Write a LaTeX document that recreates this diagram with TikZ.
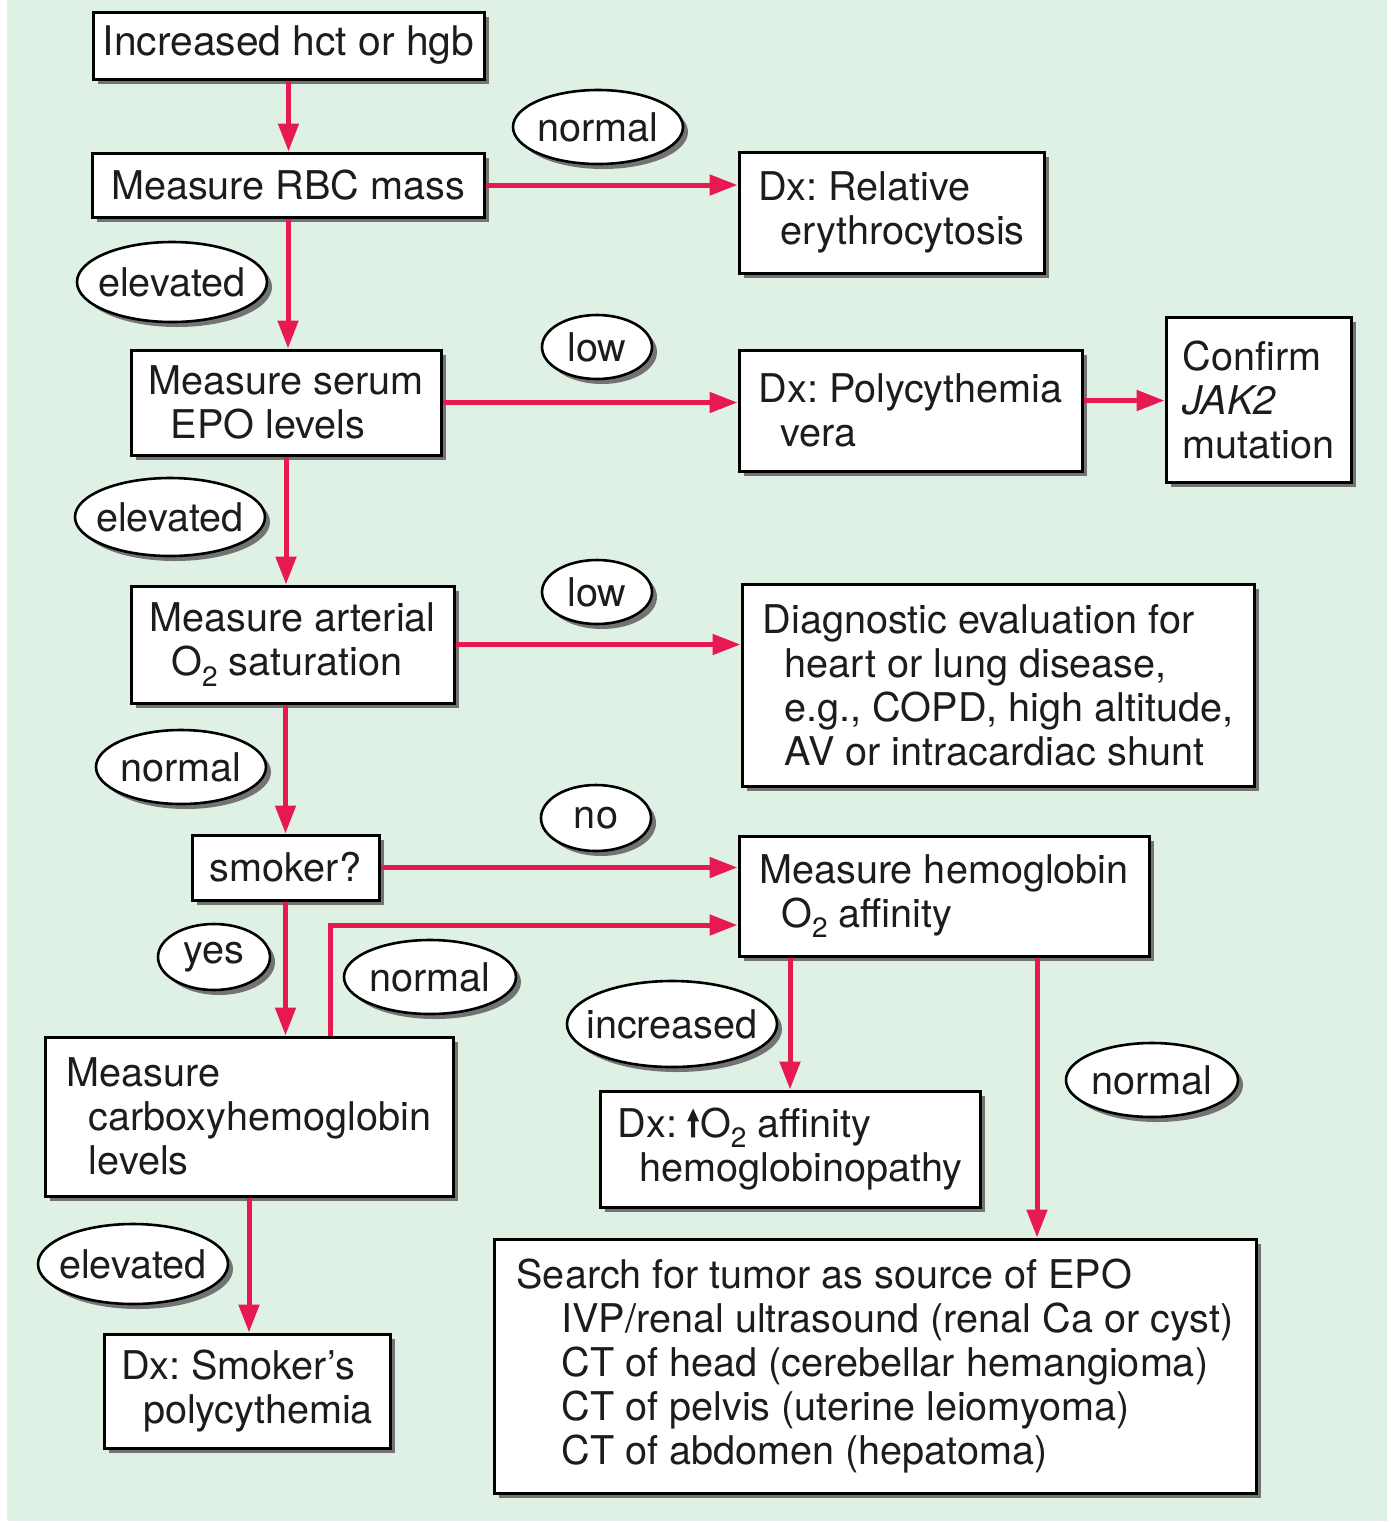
\documentclass[tikz,border=0pt]{standalone}
\usepackage{fontspec}
\setmainfont{TeX Gyre Heros}
\usetikzlibrary{arrows.meta,shapes.geometric,shadows}
\frenchspacing

\definecolor{bggreen}{RGB}{223,240,229}
\definecolor{arrred}{RGB}{230,25,80}
\definecolor{inkgray}{RGB}{28,28,28}

\newcommand{\Otwo}{O\raisebox{-0.5ex}{\fontsize{14}{14}\selectfont 2}}
\newcommand{\ind}{\hspace*{11pt}}
\newcommand{\lbltxt}[1]{\makebox[0pt]{#1}}
\newcommand{\uparr}{\tikz[baseline=0pt]\fill[inkgray] (-1pt,0pt) -- (1pt,0pt) -- (1pt,8pt) -- (3pt,8pt) -- (0pt,14.5pt) -- (-3pt,8pt) -- (-1pt,8pt) -- cycle;}

\begin{document}
\begin{tikzpicture}[x=0.5pt,y=-0.5pt,
    font=\fontsize{19.8}{22}\selectfont,
    box/.style={draw=black, line width=1.5pt, fill=white, text=inkgray, align=left, inner sep=0pt,
        drop shadow={shadow xshift=2.5pt, shadow yshift=-2.5pt, fill=black!55, opacity=1}},
    lbl/.style={ellipse, draw=black, line width=1.3pt, fill=white, text=inkgray, inner sep=0pt,
        drop shadow={shadow xshift=2.5pt, shadow yshift=-2.5pt, fill=black!55, opacity=1}},
    arr/.style={draw=arrred, line width=2.5pt, -{Triangle[length=14pt,width=10pt]}}]

    % Background
    \useasboundingbox (0,0) rectangle (1391,1523);
    \fill[bggreen] (7,0) rectangle (1387,1521);

    % Left column
    \node[box, minimum width=195.5pt, minimum height=33.5pt, font=\fontsize{20.4}{24}\selectfont] (inc) at (288.5,45.5) {Increased hct or hgb};
    \node[box, minimum width=196pt, minimum height=32pt] (rbc) at (288,185) {Measure RBC mass};
    \node[box, minimum width=155pt, minimum height=52.5pt] (epo) at (286,402.5) {Measure serum\\\ind EPO levels};
    \node[box, minimum width=161.5pt, minimum height=58.5pt] (sat) at (292.5,644.5) {Measure arterial\\\ind\Otwo{} saturation};
    \node[box, minimum width=93.5pt, minimum height=32.5pt] (smk) at (285.5,867.5) {smoker?};
    \node[box, minimum width=204pt, minimum height=79.5pt] (carb) at (249,1116.5) {Measure\\\ind carboxyhemoglobin\\\ind levels};
    \node[box, minimum width=143pt, minimum height=57pt] (smkp) at (247,1391) {Dx: Smoker’s\\\ind polycythemia};

    % Right side
    \node[box, minimum width=152.5pt, minimum height=60.5pt] (rel) at (891.5,212.5) {Dx: Relative\\\ind erythrocytosis};
    \node[box, minimum width=171.5pt, minimum height=60.5pt] (pv) at (910.5,410.5) {Dx: Polycythemia\\\ind vera};
    \node[box, minimum width=92.5pt, minimum height=82.5pt] (jak) at (1258.5,399.5) {Confirm\\\textit{JAK2}\\mutation};
    \node[box, minimum width=256pt, minimum height=101pt] (diag) at (998,685) {Diagnostic evaluation for\\\ind heart or lung disease,\\\ind e.g., COPD, high altitude,\\\ind AV or intracardiac shunt};
    \node[box, minimum width=205pt, minimum height=60pt] (hgb) at (944,896) {Measure hemoglobin\\\ind\Otwo{} affinity};
    \node[box, minimum width=190pt, minimum height=58pt] (aff) at (790,1149) {Dx:\hspace{5pt}\uparr\hspace{0.5pt}\Otwo{} affinity\\\ind hemoglobinopathy};
    \node[box, minimum width=381pt, minimum height=127pt] (tum) at (875,1366) {Search for tumor as source of EPO\\
        \hspace*{22.5pt}IVP/renal ultrasound (renal Ca or cyst)\\
        \hspace*{22.5pt}CT of head (cerebellar hemangioma)\\
        \hspace*{22.5pt}CT of pelvis (uterine leiomyoma)\\
        \hspace*{22.5pt}CT of abdomen (hepatoma)};

    % Labels
    \node[lbl, minimum width=85pt, minimum height=37pt] (nrm1) at (598,127) {\lbltxt{normal}};
    \node[lbl, minimum width=95pt, minimum height=40pt] (elv1) at (172,282) {\lbltxt{elevated}};
    \node[lbl, minimum width=55pt, minimum height=32pt] (low1) at (597,347) {\lbltxt{low}};
    \node[lbl, minimum width=95pt, minimum height=39pt] (elv2) at (170,517) {\lbltxt{elevated}};
    \node[lbl, minimum width=55pt, minimum height=32pt] (low2) at (597,592) {\lbltxt{low}};
    \node[lbl, minimum width=85pt, minimum height=37pt] (nrm2) at (181,767) {\lbltxt{normal}};
    \node[lbl, minimum width=55pt, minimum height=33pt] (no) at (596,818) {\lbltxt{no}};
    \node[lbl, minimum width=56pt, minimum height=33pt] (yes) at (214,957) {\lbltxt{\raisebox{-3pt}{yes}}};
    \node[lbl, minimum width=86pt, minimum height=37pt] (nrm3) at (430,977) {\lbltxt{normal}};
    \node[lbl, minimum width=105pt, minimum height=43pt] (incr) at (672,1024) {\lbltxt{increased}};
    \node[lbl, minimum width=86pt, minimum height=37pt] (nrm4) at (1152,1080) {\lbltxt{normal}};
    \node[lbl, minimum width=95pt, minimum height=40pt] (elv3) at (133,1264) {\lbltxt{elevated}};

    % Arrows
    \draw[arr] (inc.south) -- (inc.south |- rbc.north);
    \draw[arr] (rbc.east) -- (rbc.east -| rel.west);
    \draw[arr] (rbc.south) -- (rbc.south |- epo.north);
    \draw[arr] (epo.east) -- (epo.east -| pv.west);
    \draw[arr] ([yshift=5pt]pv.east) -- ([yshift=5pt]pv.east -| jak.west);
    \draw[arr] (epo.south) -- (epo.south |- sat.north);
    \draw[arr] (sat.east) -- (sat.east -| diag.west);
    \draw[arr] (sat.south -| smk.north) -- (smk.north);
    \draw[arr] (smk.east) -- (smk.east -| hgb.west);
    \draw[arr] (smk.south) -- (smk.south |- carb.north);
    \draw[arr] ([xshift=40.5pt]carb.north) |- ([yshift=-14.5pt]hgb.west);
    \draw[arr] (aff.north |- hgb.south) -- (aff.north);
    \draw[arr] ([xshift=46.5pt]hgb.south) -- ([xshift=46.5pt]hgb.south |- tum.north);
    \draw[arr] (carb.south) -- (carb.south |- smkp.north);
\end{tikzpicture}
\end{document}
